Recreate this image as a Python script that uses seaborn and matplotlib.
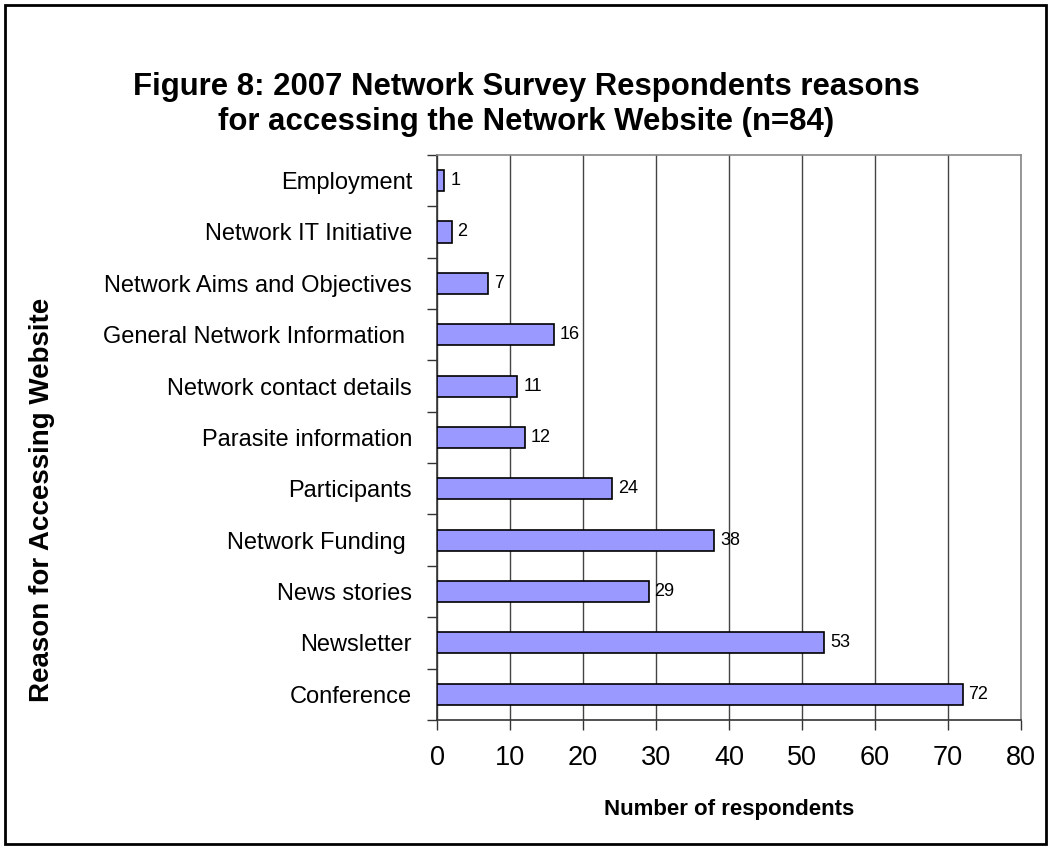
import pandas as pd
import matplotlib.pyplot as plt
import seaborn as sns
from matplotlib.patches import Rectangle

sns.set_theme(style="white")
plt.rcParams["font.family"] = ["Liberation Sans", "DejaVu Sans"]
plt.rcParams["text.color"] = "black"
plt.rcParams["axes.labelcolor"] = "black"

# data (top to bottom as shown)
reasons = ["Employment", "Network IT Initiative", "Network Aims and Objectives",
           "General Network Information ", "Network contact details",
           "Parasite information", "Participants", "Network Funding ",
           "News stories", "Newsletter", "Conference"]
counts = [1, 2, 7, 16, 11, 12, 24, 38, 29, 53, 72]

df = pd.DataFrame({"reason": reasons, "count": counts})

fig = plt.figure(figsize=(10.52, 8.49), dpi=100)
ax = fig.add_axes([0.4154, 0.152, 0.5553, 0.6655])

sns.barplot(data=df, x="count", y="reason", orient="h", color="#9999FF",
            saturation=1, width=0.41, edgecolor="black", linewidth=1.2, ax=ax, zorder=3)

ax.set_xlim(0, 80)
ax.set_ylim(len(reasons) - 0.5, -0.5)
ax.set_xticks(range(0, 81, 10))
ax.xaxis.grid(True, color="#444444", linewidth=1)
ax.set_axisbelow(True)

for i, v in enumerate(counts):
    ax.text(v + 0.8, i, str(v), va="center", ha="left", fontsize=13, color="black")

# ticks between categories on y, downward ticks on x
ax.set_yticks(range(len(reasons)))
ax.set_yticks([i + 0.5 for i in range(-1, len(reasons))], minor=True)
ax.tick_params(axis="y", which="major", length=0, labelsize=17, pad=18, labelcolor="black")
ax.tick_params(axis="y", which="minor", length=7, width=1, color="#333333", left=True)
ax.tick_params(axis="x", which="major", length=7, width=1, color="#333333", bottom=True,
               labelsize=19.5, pad=11, labelcolor="black")

for side in ["left", "bottom"]:
    ax.spines[side].set_color("#333333")
    ax.spines[side].set_linewidth(1.2)
for side in ["top", "right"]:
    ax.spines[side].set_color("#888888")
    ax.spines[side].set_linewidth(1.2)

ax.set_xlabel("Number of respondents", fontsize=16, fontweight="bold", labelpad=20)
ax.set_ylabel("Reason for Accessing Website", fontsize=20, fontweight="bold")
ax.yaxis.set_label_coords(-0.676, 0.39)
ax.yaxis.label.set_va("center")

fig.text(0.5, 1 - 87 / 849, "Figure 8: 2007 Network Survey Respondents reasons",
         ha="center", va="center", fontsize=22.4, fontweight="bold")
fig.text(0.5, 1 - 122 / 849, "for accessing the Network Website (n=84)",
         ha="center", va="center", fontsize=22.4, fontweight="bold")

# outer frame
fig.patches.append(Rectangle((0.005, 0.006), 0.989, 0.988, transform=fig.transFigure,
                             fill=False, edgecolor="black", linewidth=2))

fig.savefig("out.png", dpi=100)
